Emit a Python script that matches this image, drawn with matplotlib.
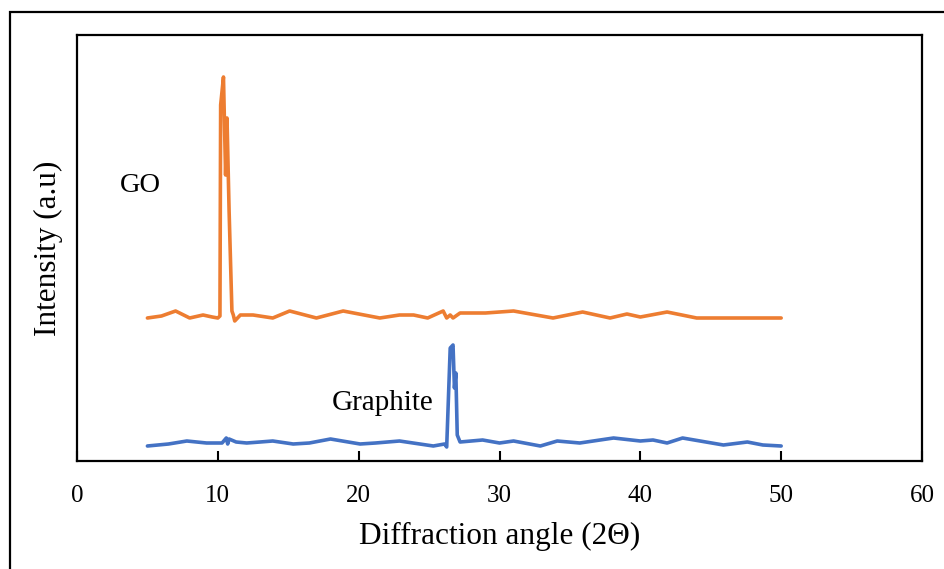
import matplotlib
matplotlib.use("Agg")
import matplotlib.pyplot as plt
from matplotlib.patches import Rectangle

plt.rcParams['font.family'] = ['Liberation Serif', 'DejaVu Serif']

# diffraction angle (2 theta) and intensity (a.u.)
go_angle = [5.0, 6.0, 7.0, 8.0, 8.95, 9.6, 10.0, 10.15, 10.2, 10.4, 10.55, 10.65, 10.8, 11.0, 11.1, 11.2,
            11.6, 12.5, 13.9, 15.1, 17.0, 18.9, 21.5, 22.9, 23.9, 24.9, 26.0, 26.25, 26.5, 26.7,
            27.2, 29.0, 31.0, 33.8, 35.9, 37.85, 39.05, 40.0, 41.9, 44.0, 47.0, 50.0]
go_int = [143, 145, 150, 143, 146, 144, 143, 145, 356, 384, 286, 343, 250, 150, 146, 140,
          146, 146, 143, 150, 143, 150, 143, 146, 146, 143, 150, 143, 146, 143,
          148, 148, 150, 143, 149, 143, 147, 144, 149, 143, 143, 143]

gr_angle = [5.0, 6.5, 7.8, 9.2, 10.3, 10.6, 10.7, 10.8, 11.3, 12.05, 13.0, 13.9, 15.35, 16.5, 18.0,
            20.1, 21.2, 22.9, 25.3, 26.1, 26.25, 26.5, 26.7, 26.8, 26.9, 27.0, 27.2,
            28.8, 30.0, 31.0, 32.9, 34.1, 35.7, 38.1, 40.0, 40.9, 41.9, 43.0, 45.9, 47.6, 48.7, 50.0]
gr_int = [15, 17, 20, 18, 18, 23, 17, 22, 19, 18, 19, 20, 17, 18, 22,
          17, 18, 20, 15, 17, 14, 113, 116, 73, 88, 26, 19,
          21, 18, 20, 15, 20, 18, 23, 20, 21, 18, 23, 16, 19, 16, 15]

x_ticks = [0, 10, 20, 30, 40, 50, 60]

fig = plt.figure(figsize=(9.44, 5.69), dpi=100)
# outer frame around the whole chart
fig.patches.append(Rectangle((10 / 944, -0.2), 1.2, 1.2 - 12 / 569, transform=fig.transFigure,
                             fill=False, edgecolor='black', linewidth=1.6))

ax = fig.add_axes([77 / 944, 1 - 461 / 569, (922 - 77) / 944, (461 - 35) / 569])
ax.plot(go_angle, go_int, color='#ED7D31', linewidth=2.6, solid_joinstyle='round', solid_capstyle='round')
ax.plot(gr_angle, gr_int, color='#4472C4', linewidth=2.6, solid_joinstyle='round', solid_capstyle='round')

ax.text(4.47, 276, 'GO', fontsize=20.5, ha='center', va='center')
ax.text(21.7, 58, 'Graphite', fontsize=21, ha='center', va='center')

ax.set_xlim(0, 60)
ax.set_ylim(0, 426)
ax.set_xticks(x_ticks)
ax.tick_params(axis='x', direction='in', length=7, width=1.5, labelsize=18, pad=17)
ax.tick_params(axis='y', left=False, labelleft=False)
for s in ax.spines.values():
    s.set_linewidth(1.6)

ax.set_xlabel('Diffraction angle (2Θ)', fontsize=22.5, labelpad=11)
ax.set_ylabel('Intensity (a.u)', fontsize=22.5, labelpad=10)

fig.savefig('out.png', dpi=100)
